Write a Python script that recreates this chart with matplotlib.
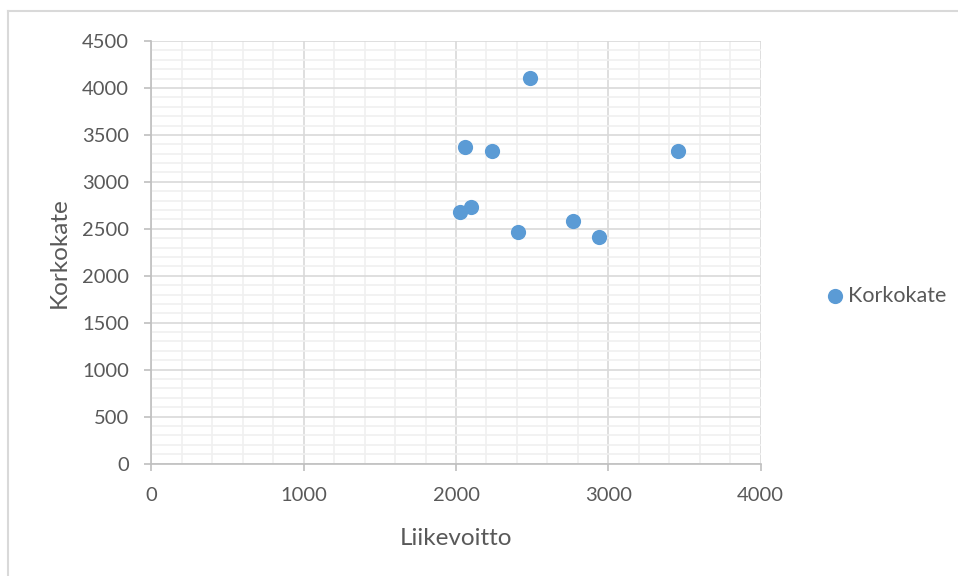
import matplotlib.pyplot as plt
from matplotlib.lines import Line2D
from matplotlib.ticker import MultipleLocator

# Liikevoitto vs. korkokate
liikevoitto = [2487, 2059, 2236, 3459, 2024, 2100, 2410, 2771, 2939]
korkokate = [4107, 3374, 3332, 3332, 2674, 2731, 2471, 2578, 2412]

plt.rcParams['font.family'] = ['Lato', 'DejaVu Sans']
text_col = '#595959'

fig = plt.figure(figsize=(9.58, 5.76), dpi=100)
ax = fig.add_axes([0.158, 0.1953, 0.636, 0.7335])

ax.scatter(liikevoitto, korkokate, s=120, color='#5b9bd5', zorder=3,
           label='Korkokate', linewidths=0)

ax.set_xlim(0, 4000)
ax.set_ylim(0, 4500)
ax.xaxis.set_major_locator(MultipleLocator(1000))
ax.xaxis.set_minor_locator(MultipleLocator(200))
ax.yaxis.set_major_locator(MultipleLocator(500))
ax.yaxis.set_minor_locator(MultipleLocator(100))

ax.grid(which='major', color='#d9d9d9', linewidth=1.2)
ax.grid(which='minor', color='#f0f0f0', linewidth=1.2)
ax.set_axisbelow(True)

for side in ['top', 'right']:
    ax.spines[side].set_visible(False)
for side in ['left', 'bottom']:
    ax.spines[side].set_color('#bfbfbf')
    ax.spines[side].set_linewidth(1.2)

ax.tick_params(which='major', length=5, width=1.2, color='#bfbfbf',
               labelsize=14.5, labelcolor=text_col)
ax.tick_params(axis='x', which='major', pad=12)
ax.tick_params(axis='y', which='major', pad=11)
ax.tick_params(which='minor', length=0)

ax.set_xlabel('Liikevoitto', fontsize=17.5, color=text_col, labelpad=17)
ax.set_ylabel('Korkokate', fontsize=17.5, color=text_col, labelpad=9)

fig.legend(loc='center left', bbox_to_anchor=(0.860, 0.486), frameon=False,
           fontsize=15.5, labelcolor=text_col, handletextpad=0.1,
           handlelength=1.0, borderpad=0, borderaxespad=0)

# chart area border (top and left edges)
fig.add_artist(Line2D([8 / 958, 1], [1 - 11 / 576, 1 - 11 / 576],
                      color='#d9d9d9', linewidth=1.5))
fig.add_artist(Line2D([8 / 958, 8 / 958], [0, 1 - 11 / 576],
                      color='#d9d9d9', linewidth=1.5))

fig.savefig('out.png', dpi=100)
